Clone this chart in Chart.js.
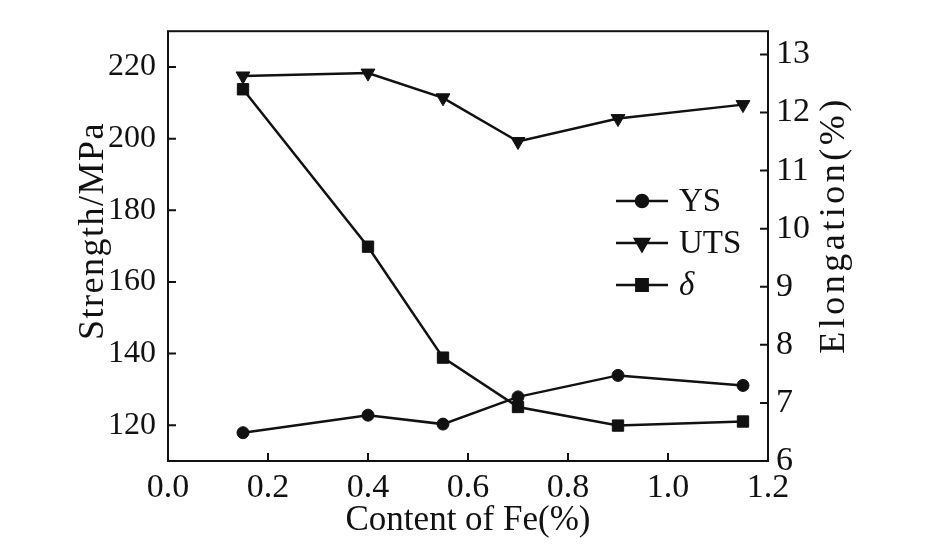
<!DOCTYPE html>
<html>
<head>
<meta charset="utf-8">
<script src="https://cdn.jsdelivr.net/npm/chart.js@4.4.1/dist/chart.umd.min.js"></script>
<style>
  html, body { margin: 0; padding: 0; background: #fff; }
  canvas { display: block; }
</style>
</head>
<body>
<canvas id="chart" width="936" height="555"></canvas>
<script>
// Fe content (%) on x
const feContent = [0.15, 0.4, 0.55, 0.7, 0.9, 1.15];
// yield strength, MPa
const ysValues = [117.9, 122.8, 120.3, 127.9, 133.9, 131.1];
// ultimate tensile strength, MPa
const utsValues = [217.5, 218.3, 211.4, 199.2, 205.6, 209.5];
// elongation, %
const elongValues = [12.4, 9.69, 7.78, 6.93, 6.61, 6.68];

const xTicks = [0, 0.2, 0.4, 0.6, 0.8, 1.0, 1.2];
const strengthTicks = [120, 140, 160, 180, 200, 220];
const elongTicks = [6, 7, 8, 9, 10, 11, 12, 13];

const ink = '#111';
const serif = "'Liberation Serif', 'Times New Roman', serif";

function toPoints(vals) {
  return feContent.map((x, i) => ({ x: x, y: vals[i] }));
}

function sideTitle(ctx, text, x, y, size, spacing) {
  ctx.save();
  ctx.font = size + 'px ' + serif;
  ctx.letterSpacing = spacing + 'px';
  ctx.textAlign = 'center';
  ctx.textBaseline = 'middle';
  ctx.translate(x, y);
  ctx.rotate(-Math.PI / 2);
  ctx.fillText(text, 0, 0);
  ctx.restore();
}

// frame, inward tick marks, y titles and the legend
const decor = {
  id: 'decor',
  beforeDatasetsDraw(chart) {
    const { ctx, chartArea: a, scales } = chart;
    ctx.save();
    ctx.strokeStyle = ink;
    ctx.lineWidth = 2;
    ctx.strokeRect(a.left, a.top, a.right - a.left, a.bottom - a.top);

    const len = 8;
    ctx.beginPath();
    xTicks.forEach(v => {
      const px = scales.x.getPixelForValue(v);
      ctx.moveTo(px, a.bottom);
      ctx.lineTo(px, a.bottom - len);
    });
    strengthTicks.forEach(v => {
      const py = scales.y.getPixelForValue(v);
      ctx.moveTo(a.left, py);
      ctx.lineTo(a.left + len, py);
    });
    elongTicks.forEach(v => {
      const py = scales.y2.getPixelForValue(v);
      ctx.moveTo(a.right, py);
      ctx.lineTo(a.right - len, py);
    });
    ctx.stroke();

    ctx.fillStyle = ink;
    sideTitle(ctx, 'Strength/MPa', 94, 231, 36, 1.5);
    sideTitle(ctx, 'Elongation(%)', 835, 225, 36, 3.5);
    ctx.restore();
  },
  afterDatasetsDraw(chart) {
    const { ctx } = chart;
    const rows = [201, 243, 285];
    ctx.save();
    ctx.strokeStyle = ink;
    ctx.fillStyle = ink;
    chart.data.datasets.forEach((ds, i) => {
      const y = rows[i];
      ctx.lineWidth = 2.5;
      ctx.beginPath();
      ctx.moveTo(616, y);
      ctx.lineTo(668, y);
      ctx.stroke();
      Chart.helpers.drawPoint(ctx, {
        pointStyle: ds.pointStyle,
        rotation: ds.pointRotation || 0,
        radius: ds.pointRadius,
        borderWidth: 1
      }, 642, y);
      ctx.font = (ds.label === 'δ' ? 'italic ' : '') + '33px ' + serif;
      ctx.textAlign = 'left';
      ctx.textBaseline = 'middle';
      ctx.fillText(ds.label, 679, y + 1);
    });
    ctx.restore();
  }
};

const lineStyle = {
  borderColor: ink,
  backgroundColor: ink,
  pointBackgroundColor: ink,
  pointBorderColor: ink,
  borderWidth: 2.5,
  pointBorderWidth: 1,
  showLine: true,
  tension: 0
};

new Chart(document.getElementById('chart'), {
  type: 'scatter',
  data: {
    datasets: [
      Object.assign({ label: 'YS', data: toPoints(ysValues), yAxisID: 'y', pointStyle: 'circle', pointRadius: 6 }, lineStyle),
      Object.assign({ label: 'UTS', data: toPoints(utsValues), yAxisID: 'y', pointStyle: 'triangle', pointRotation: 180, pointRadius: 8 }, lineStyle),
      Object.assign({ label: 'δ', data: toPoints(elongValues), yAxisID: 'y2', pointStyle: 'rect', pointRadius: 8 }, lineStyle)
    ]
  },
  options: {
    responsive: false,
    animation: false,
    layout: { padding: { top: 29, left: 0, right: 0, bottom: 0 } },
    plugins: {
      legend: { display: false },
      tooltip: { enabled: false }
    },
    scales: {
      x: {
        type: 'linear',
        min: 0,
        max: 1.2,
        afterBuildTicks: s => { s.ticks = xTicks.map(v => ({ value: v })); },
        afterFit: s => { s.height = 94; },
        grid: { display: false, drawTicks: false },
        border: { display: false },
        ticks: {
          color: ink,
          padding: 7,
          font: { family: serif, size: 34 },
          callback: v => v.toFixed(1)
        },
        title: {
          display: true,
          text: 'Content of Fe(%)',
          color: ink,
          font: { family: serif, size: 35 },
          padding: { top: 0, bottom: 13 }
        }
      },
      y: {
        position: 'left',
        min: 110,
        max: 230,
        afterBuildTicks: s => { s.ticks = strengthTicks.map(v => ({ value: v })); },
        afterFit: s => { s.width = 168; },
        grid: { display: false, drawTicks: false },
        border: { display: false },
        ticks: { color: ink, padding: 12, font: { family: serif, size: 32 } }
      },
      y2: {
        position: 'right',
        min: 6,
        max: 13.4,
        afterBuildTicks: s => { s.ticks = elongTicks.map(v => ({ value: v })); },
        afterFit: s => { s.width = 168; },
        grid: { display: false, drawTicks: false },
        border: { display: false },
        ticks: { color: ink, padding: 8, font: { family: serif, size: 34 } }
      }
    }
  },
  plugins: [decor]
});
</script>
</body>
</html>
